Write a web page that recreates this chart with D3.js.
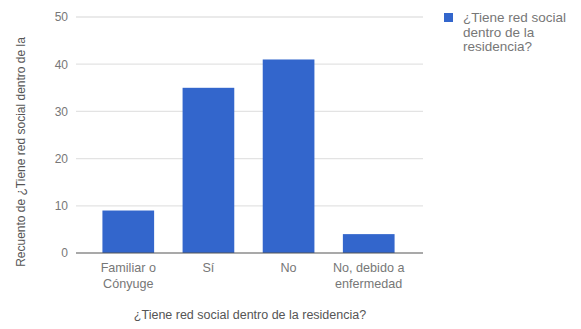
<!DOCTYPE html>
<html>
<head>
<meta charset="utf-8">
<script src="https://cdn.jsdelivr.net/npm/d3@7"></script>
<style>
  html, body { margin: 0; padding: 0; background: #fff; }
  svg { display: block; font-family: "Liberation Sans", Arial, sans-serif; }
</style>
</head>
<body>
<svg id="chart" width="581" height="329"></svg>
<script>
// Respuestas a "¿Tiene red social dentro de la residencia?"
const categories = [["Familiar o", "Cónyuge"], ["Sí"], ["No"], ["No, debido a", "enfermedad"]];
const counts = [9, 35, 41, 4];
const yTicks = [0, 10, 20, 30, 40, 50];
const seriesName = ["¿Tiene red social", "dentro de la", "residencia?"];
const xTitle = "¿Tiene red social dentro de la residencia?";
const yTitle = "Recuento de ¿Tiene red social dentro de la";

const svg = d3.select("#chart");
const barColor = "#3366cc";
const font = "\"Liberation Sans\", Arial, sans-serif";

const gridLeft = 76, gridRight = 423;
const x = d3.scaleBand()
  .domain(categories.map((d, i) => i))
  .range([88, 409])
  .paddingInner(0.355)
  .paddingOuter(0.18);
const y = d3.scaleLinear().domain([0, 50]).range([253, 17]);

// horizontal gridlines
svg.append("g").selectAll("line")
  .data(yTicks.filter(t => t > 0))
  .join("line")
  .attr("x1", gridLeft).attr("x2", gridRight)
  .attr("y1", d => y(d)).attr("y2", d => y(d))
  .attr("stroke", "#e3e3e3").attr("stroke-width", 1.3);

// y tick labels
const yAxis = d3.axisLeft(y).tickValues(yTicks).tickSize(0).tickPadding(0);
const gy = svg.append("g").attr("transform", "translate(68,0)").call(yAxis);
gy.select(".domain").remove();
gy.selectAll("text").attr("fill", "#777").attr("font-size", 12).attr("font-family", font);

// bars
svg.append("g").selectAll("rect")
  .data(counts)
  .join("rect")
  .attr("x", (d, i) => x(i))
  .attr("width", x.bandwidth())
  .attr("y", d => y(d))
  .attr("height", d => y(0) - y(d))
  .attr("fill", barColor);

// baseline
svg.append("line")
  .attr("x1", gridLeft).attr("x2", gridRight)
  .attr("y1", y(0)).attr("y2", y(0))
  .attr("stroke", "#555").attr("stroke-width", 1.2);

// category labels
const xl = svg.append("g");
categories.forEach((lines, i) => {
  const cx = x(i) + x.bandwidth() / 2;
  const t = xl.append("text")
    .attr("x", cx)
    .attr("y", 272)
    .attr("text-anchor", "middle")
    .attr("fill", "#777")
    .attr("font-size", 12.6);
  lines.forEach((ln, j) => {
    t.append("tspan").attr("x", cx).attr("dy", j === 0 ? 0 : 15.5).text(ln);
  });
});

// axis titles
svg.append("text")
  .attr("x", 250).attr("y", 319)
  .attr("text-anchor", "middle")
  .attr("fill", "#555").attr("font-size", 12.5)
  .text(xTitle);

svg.append("text")
  .attr("transform", "translate(25,152) rotate(-90)")
  .attr("text-anchor", "middle")
  .attr("fill", "#555").attr("font-size", 12)
  .text(yTitle);

// legend
const lg = svg.append("g");
lg.append("rect").attr("x", 444).attr("y", 13).attr("width", 9).attr("height", 9).attr("fill", barColor);
const lt = lg.append("text").attr("x", 463).attr("y", 22).attr("fill", "#777").attr("font-size", 13.5);
seriesName.forEach((ln, j) => {
  lt.append("tspan").attr("x", 463).attr("dy", j === 0 ? 0 : 14.5).text(ln);
});
</script>
</body>
</html>
